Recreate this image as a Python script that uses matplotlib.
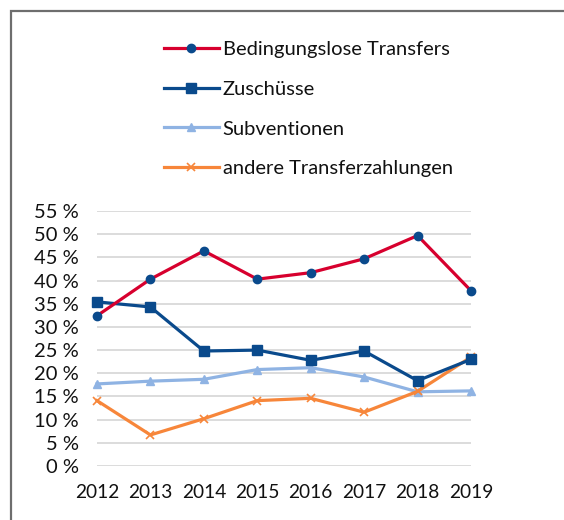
import numpy as np
import matplotlib.pyplot as plt
from matplotlib.patches import Rectangle
from matplotlib.ticker import FuncFormatter

plt.rcParams['font.family'] = ['Lato', 'DejaVu Sans']

years = [2012, 2013, 2014, 2015, 2016, 2017, 2018, 2019]
bedingungslos = [32.4, 40.3, 46.4, 40.3, 41.7, 44.7, 49.7, 37.8]
zuschuesse = [35.4, 34.3, 24.8, 25.0, 22.8, 24.8, 18.4, 23.0]
subventionen = [17.7, 18.3, 18.7, 20.8, 21.2, 19.2, 16.0, 16.2]
andere = [14.1, 6.7, 10.2, 14.1, 14.6, 11.6, 16.1, 23.5]

labels = ['Bedingungslose Transfers', 'Zuschüsse', 'Subventionen',
          'andere Transferzahlungen']

red = '#d7002e'
dblue = '#0a4a8c'
lblue = '#8fb3e3'
orange = '#f7863a'

fig = plt.figure(figsize=(5.64, 5.20), dpi=100)
# outer frame (left and top edges visible)
fig.patches.append(Rectangle((11 / 564, -0.1), 1.2, 1 - 11 / 520 + 0.1,
                             transform=fig.transFigure, fill=False,
                             edgecolor='#6e6e6e', lw=1.6))

ax = fig.add_axes([97 / 564, 1 - 466 / 520, (471 - 97) / 564, (466 - 211) / 520])

l1, = ax.plot(years, bedingungslos, color=red, lw=2.3, marker='o', ms=6,
              mfc=dblue, mec=dblue, zorder=5, clip_on=False)
l2, = ax.plot(years, zuschuesse, color=dblue, lw=2.3, marker='s', ms=7.5,
              zorder=4, clip_on=False)
l3, = ax.plot(years, subventionen, color=lblue, lw=2.3, marker='^', ms=5.5,
              zorder=3, clip_on=False)
l4, = ax.plot(years, andere, color=orange, lw=2.3, marker='x', ms=6,
              mew=1.2, zorder=3, clip_on=False)

ax.set_xlim(2012, 2019)
ax.set_ylim(0, 55)
ax.set_yticks(np.arange(0, 56, 5))
ax.yaxis.set_major_formatter(FuncFormatter(lambda v, p: f'{v:.0f} %'))
ax.set_xticks(years)
ax.grid(axis='y', color='#d9d9d9', lw=1.3)
ax.set_axisbelow(True)
for s in ax.spines.values():
    s.set_visible(False)
ax.tick_params(length=0, colors='#111111')
ax.tick_params(axis='x', pad=13, labelsize=13.8)
ax.tick_params(axis='y', pad=13, labelsize=14.5)

fig.legend([l1, l2, l3, l4], labels, loc='upper left',
           bbox_to_anchor=(146 / 564, 1 - 23 / 520), frameon=False,
           fontsize=14.5, handlelength=2.7, handletextpad=0.2,
           labelspacing=1.12, labelcolor='#111111')

fig.savefig('out.png', dpi=100)
